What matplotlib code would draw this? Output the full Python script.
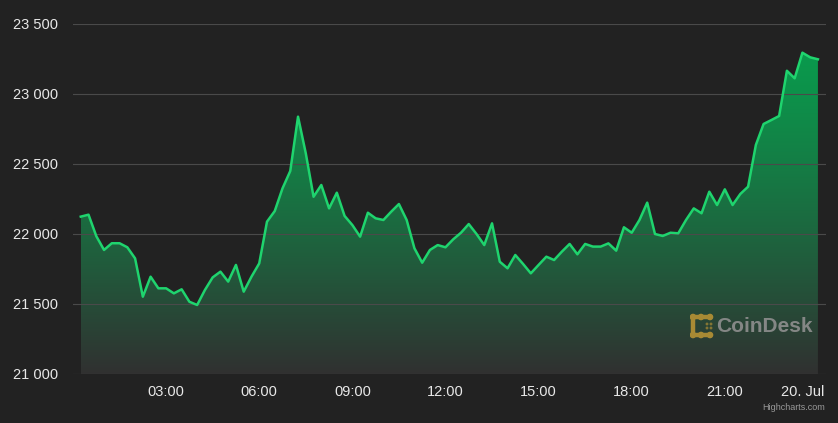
import numpy as np
import pandas as pd
import matplotlib
matplotlib.use("Agg")
import matplotlib.pyplot as plt
import matplotlib.dates as mdates
from matplotlib.patches import Polygon, Circle
from matplotlib.transforms import ScaledTranslation

plt.rcParams['font.family'] = ['Liberation Sans', 'DejaVu Sans']

# BTC price, 15-minute steps through 19 July
times = pd.date_range('2022-07-19 00:15', periods=96, freq='15min')
prices = [
    22124, 22138, 21985, 21886, 21934, 21934, 21905, 21826, 21552, 21695,
    21612, 21612, 21576, 21605, 21516, 21493, 21600, 21690, 21731, 21660,
    21779, 21588, 21695, 21790, 22088, 22164, 22326, 22450, 22838, 22576,
    22266, 22350, 22183, 22295, 22129, 22064, 21981, 22152, 22112, 22100,
    22159, 22214, 22100, 21898, 21795, 21886, 21921, 21905, 21962, 22009,
    22071, 22000, 21921, 22076, 21802, 21755, 21850, 21786, 21719, 21779,
    21838, 21814, 21874, 21929, 21855, 21929, 21910, 21910, 21933, 21881,
    22048, 22009, 22100, 22224, 22000, 21986, 22009, 22005, 22100, 22183,
    22148, 22302, 22207, 22319, 22207, 22286, 22338, 22636, 22786, 22814,
    22843, 23166, 23112, 23295, 23262, 23248,
]
y_ticks = [21000, 21500, 22000, 22500, 23000, 23500]
x_tick_times = ['2022-07-19 03:00', '2022-07-19 06:00', '2022-07-19 09:00',
                '2022-07-19 12:00', '2022-07-19 15:00', '2022-07-19 18:00',
                '2022-07-19 21:00', '2022-07-20 00:00']
x_tick_labels = ['03:00', '06:00', '09:00', '12:00', '15:00', '18:00', '21:00', '20. Jul']

bg = '#222222'
fig = plt.figure(figsize=(8.38, 4.23), dpi=100, facecolor=bg)
ax = fig.add_axes([73 / 838, 49 / 423, 753 / 838, 350 / 423], facecolor=bg)

x = mdates.date2num(times)
y = np.array(prices)
ymin, ymax = 21000, 23500

# gradient fill under the line (green at the series top, grey at the floor)
t = np.linspace(0, 1, 256) ** 1.25
top = np.array([0.04, 0.60, 0.30])
bottom = np.array([0.19, 0.19, 0.19])
img = top * (1 - t[:, None]) + bottom * t[:, None]
img = img.reshape(256, 1, 3)
im = ax.imshow(img, extent=[x[0], x[-1], ymin, y.max()], aspect='auto', zorder=1,
               origin='upper', interpolation='bilinear')
verts = [(x[0], ymin)] + list(zip(x, y)) + [(x[-1], ymin)]
poly = Polygon(verts, closed=True, facecolor='none', edgecolor='none')
ax.add_patch(poly)
im.set_clip_path(poly)

ax.plot(x, y, color='#1fd46e', lw=1.8, zorder=3, solid_joinstyle='round')

ax.set_ylim(ymin, ymax)
x0 = mdates.date2num(pd.Timestamp('2022-07-19 00:00'))
ax.set_xlim(x0, x0 + 24.26 / 24)

ax.set_yticks(y_ticks)
ax.set_yticklabels([f"{v:,}".replace(',', ' ') for v in y_ticks])
ax.set_xticks(mdates.date2num(pd.to_datetime(x_tick_times)))
ax.set_xticklabels(x_tick_labels)
ax.grid(axis='y', color='#4a4a4a', lw=0.8, zorder=0)
ax.tick_params(axis='both', length=0, colors='#e8e8e8', labelsize=10.5)
ax.tick_params(axis='y', pad=11)
ax.tick_params(axis='x', pad=8)
for s in ax.spines.values():
    s.set_visible(False)

# last label is pushed left so it stays inside the chart
last = ax.get_xticklabels()[-1]
last.set_transform(last.get_transform() + ScaledTranslation(-15 / 100, 0, fig.dpi_scale_trans))

# CoinDesk watermark
lg = fig.add_axes([690 / 838, (423 - 339) / 423, 24 / 838, 26 / 423])
lg.set_xlim(0, 24)
lg.set_ylim(0, 26)
lg.axis('off')
gold = '#a88a34'
lg.plot([3, 3], [4, 22], color=gold, lw=3.2, solid_capstyle='round')
lg.plot([3, 20], [22, 22], color=gold, lw=3.2, solid_capstyle='round')
lg.plot([3, 20], [4, 4], color=gold, lw=3.2, solid_capstyle='round')
for cx, cy in [(3, 22), (20, 22), (3, 4), (20, 4), (11, 22), (11, 4)]:
    lg.add_patch(Circle((cx, cy), 2.6, color=gold))
for cx, cy in [(17, 15), (17, 11), (21, 15), (21, 11)]:
    lg.add_patch(Circle((cx, cy), 0.8, color=gold, alpha=0.6))
fig.text(716 / 838, 1 - 326 / 423, 'CoinDesk', color='#8f8f8f', fontsize=15,
         fontweight='bold', va='center', ha='left', alpha=0.9)

fig.text(825 / 838, 1 - 407 / 423, 'Highcharts.com', color='#999999', fontsize=6.5,
         ha='right', va='center')

fig.savefig('out.png', dpi=100, facecolor=bg)
